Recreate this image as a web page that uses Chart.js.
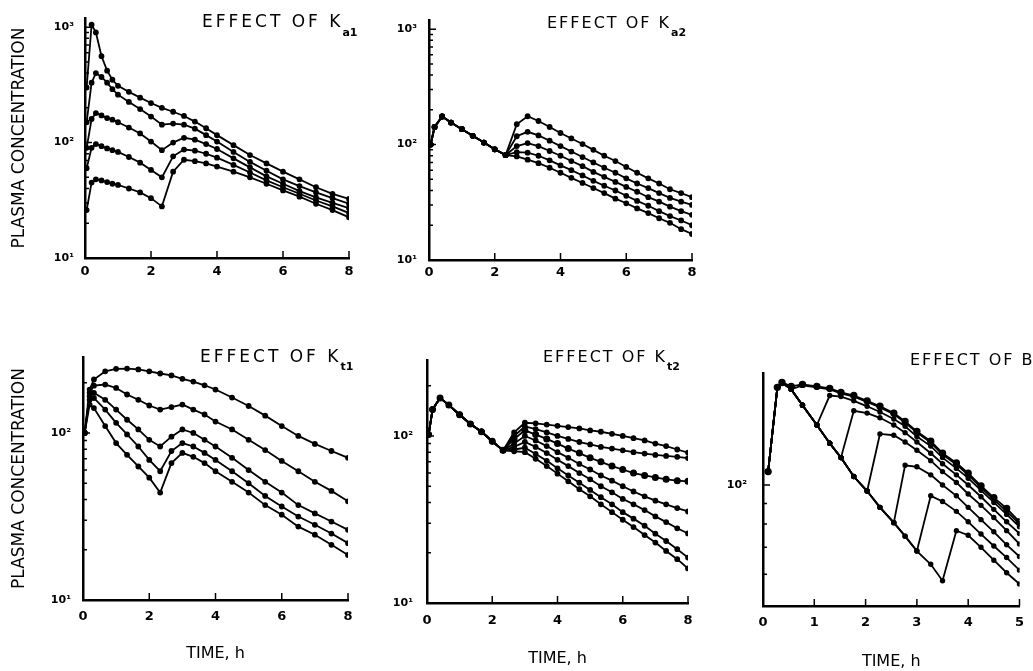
<!DOCTYPE html>
<html>
<head>
<meta charset="utf-8">
<script src="https://cdn.jsdelivr.net/npm/chart.js@4.4.1/dist/chart.umd.min.js"></script>
<style>
  html, body { margin: 0; padding: 0; background: #fff; }
  body { width: 1033px; height: 671px; position: relative; overflow: hidden; }
  .panel { position: absolute; }
</style>
</head>
<body>
<div class="panel" style="left:0;top:0;width:375px;height:300px"><canvas id="ka1"></canvas></div>
<div class="panel" style="left:375px;top:0;width:345px;height:300px"><canvas id="ka2"></canvas></div>
<div class="panel" style="left:0;top:300px;width:375px;height:371px"><canvas id="kt1"></canvas></div>
<div class="panel" style="left:375px;top:300px;width:345px;height:371px"><canvas id="kt2"></canvas></div>
<div class="panel" style="left:720px;top:300px;width:313px;height:371px"><canvas id="effB"></canvas></div>
<script>
// time grids (h)
const timeKa1 = [0.05, 0.2, 0.33, 0.5, 0.67, 0.83, 1.0, 1.33, 1.67, 2.0, 2.33, 2.67, 3.0, 3.33, 3.67, 4.0, 4.5, 5.0, 5.5, 6.0, 6.5, 7.0, 7.5, 8.0];
const timeKa2 = [0.05, 0.17, 0.4, 0.67, 1.0, 1.33, 1.67, 2.0, 2.33, 2.67, 3.0, 3.33, 3.67, 4.0, 4.33, 4.67, 5.0, 5.33, 5.67, 6.0, 6.33, 6.67, 7.0, 7.33, 7.67, 8.0];
const timeKt1 = [0.05, 0.2, 0.33, 0.67, 1.0, 1.33, 1.67, 2.0, 2.33, 2.67, 3.0, 3.33, 3.67, 4.0, 4.5, 5.0, 5.5, 6.0, 6.5, 7.0, 7.5, 8.0];
const timeKt2 = [0.05, 0.17, 0.4, 0.67, 1.0, 1.33, 1.67, 2.0, 2.33, 2.67, 3.0, 3.33, 3.67, 4.0, 4.33, 4.67, 5.0, 5.33, 5.67, 6.0, 6.33, 6.67, 7.0, 7.33, 7.67, 8.0];
const timeB = [0.1, 0.28, 0.37, 0.55, 0.77, 1.05, 1.3, 1.52, 1.77, 2.03, 2.28, 2.55, 2.77, 3.0, 3.27, 3.5, 3.77, 4.0, 4.25, 4.5, 4.75, 5.0];

// EFFECT OF Ka1
const ka1_1 = [300, 1050, 900, 560, 420, 350, 310, 275, 245, 220, 200, 185, 170, 152, 133, 116, 95, 78, 66, 56, 48, 41, 36, 32.5];
const ka1_2 = [150, 330, 400, 370, 330, 290, 260, 225, 195, 168, 143, 146, 143, 132, 116, 102, 83, 68, 57, 48, 42, 37, 33, 29.5];
const ka1_3 = [90, 160, 180, 172, 163, 158, 150, 135, 120, 102, 86, 100, 110, 106, 97, 88, 73, 61, 51, 44, 38, 33.5, 30, 27];
const ka1_4 = [60, 90, 97, 93, 89, 86, 83, 75, 67, 58, 50, 76, 87, 85, 80, 74, 64, 55, 47, 41, 36, 31.5, 28, 24.5];
const ka1_5 = [26, 45, 48, 47, 45.5, 44, 43, 40, 37, 33, 28, 56, 71, 69, 66, 62, 56, 50, 44, 38.5, 34, 29.5, 26, 22.5];

// EFFECT OF Ka2
const ka2_1 = [100, 142, 175, 155, 136, 119, 104, 91, 81, 150, 176, 160, 142, 126, 113, 101, 90, 80, 72, 64, 57, 51, 46, 41, 38, 35];
const ka2_2 = [100, 142, 175, 155, 136, 119, 104, 91, 81, 118, 129, 120, 108, 97, 87, 78, 70, 63, 57, 51, 46, 42, 38, 34.5, 32, 30];
const ka2_3 = [100, 142, 175, 155, 136, 119, 104, 91, 81, 97, 103, 97, 88, 80, 72, 65, 58, 52.5, 47.5, 43, 39, 35, 32, 29, 26.5, 24.6];
const ka2_4 = [100, 142, 175, 155, 136, 119, 104, 91, 81, 86, 85, 80, 73, 66, 60, 54, 48.5, 44, 40, 36, 32.5, 29.5, 26.5, 24, 22, 20];
const ka2_5 = [100, 142, 175, 155, 136, 119, 104, 91, 81, 79, 74, 69, 63, 57, 51.5, 46.5, 42, 38, 34, 31, 28, 25.5, 23, 21, 18.5, 16.8];

// EFFECT OF Kt1
const kt1_1 = [100, 182, 209, 234, 242, 243, 240, 234, 227, 221, 211, 203, 193, 182, 163, 145, 127, 110, 96, 86, 78, 71];
const kt1_2 = [100, 174, 192, 195, 186, 170, 158, 146, 138, 143, 148, 138, 129, 117, 105, 91, 79, 68, 59, 51, 45, 39];
const kt1_3 = [100, 166, 174, 158, 138, 120, 105, 91, 83, 95, 105, 100, 91, 83, 71, 60, 51, 44, 37, 33, 29.5, 26.3];
const kt1_4 = [100, 158, 162, 138, 115, 98, 83, 69, 59, 78, 87, 83, 76, 69, 59, 50, 42, 36.3, 31.6, 28.2, 25, 21.9];
const kt1_5 = [100, 148, 141, 110, 87, 74, 63, 54, 44, 66, 76, 72, 66, 59, 51, 44, 37, 32.4, 27.5, 24.6, 21.4, 18.6];

// EFFECT OF Kt2
const kt2_1 = [102, 144, 169, 153, 134, 118, 106, 93, 82, 105, 120, 119, 117, 115, 113, 111, 108, 106, 103, 100, 97, 94, 90, 87, 83, 79.5];
const kt2_2 = [102, 144, 169, 153, 134, 118, 106, 93, 82, 100, 114, 110, 105, 100, 96, 92, 89, 86, 84, 82, 80, 78.5, 77, 76, 75, 73.7];
const kt2_3 = [102, 144, 169, 153, 134, 118, 106, 93, 82, 96, 108, 102, 96, 90, 84, 79, 74, 70, 66, 63, 60, 58, 56.5, 55, 54, 53.5];
const kt2_4 = [102, 144, 169, 153, 134, 118, 106, 93, 82, 90, 100, 94, 87, 80, 74, 68, 63, 58, 54, 50, 46.5, 43.5, 41, 39, 37, 35.3];
const kt2_5 = [102, 144, 169, 153, 134, 118, 106, 93, 82, 86, 92, 86, 79, 72, 66, 60, 55, 50, 46, 42, 39, 36, 33, 30.5, 28, 26.1];
const kt2_6 = [102, 144, 169, 153, 134, 118, 106, 93, 82, 83, 85, 78, 71, 64, 58, 52.5, 47.5, 43, 39, 35, 32, 29, 26, 23.5, 21, 18.7];
const kt2_7 = [102, 144, 169, 153, 134, 118, 106, 93, 82, 81, 80, 73, 66, 59.5, 53.5, 48, 43.5, 39, 35, 31.5, 28.5, 25.5, 23, 20.5, 18.3, 16.1];

// EFFECT OF B
const b_1 = [108, 175, 180, 176, 178, 176, 174, 170, 167, 162, 157, 151, 144, 136, 128.5, 120, 113.5, 107, 99.5, 93, 87.5, 81];
const b_2 = [108, 175, 180, 173, 177, 175, 173, 169, 166, 161, 156, 150, 143, 135, 127.5, 119, 112.5, 106, 98.5, 92, 86, 80];
const b_3 = [108, 175, 180, 173, 158, 141, 167, 166, 162, 157, 152, 146, 140, 132, 125, 117, 110, 104, 97, 90.5, 84.5, 78.7];
const b_4 = [108, 175, 180, 173, 158, 141, 127, 117, 153, 151, 147, 141, 135, 128, 120, 113, 106, 100, 93.5, 87, 81, 75.7];
const b_5 = [108, 175, 180, 173, 158, 141, 127, 117, 105, 96.6, 134, 133, 128, 122, 115, 108, 101.5, 95, 89, 83, 77, 71.3];
const b_6 = [108, 175, 180, 173, 158, 141, 127, 117, 105, 96.6, 88, 80.6, 112, 111, 106, 100, 94, 88, 82, 76.5, 71, 66.4];
const b_7 = [108, 175, 180, 173, 158, 141, 127, 117, 105, 96.6, 88, 80.6, 74.6, 68.5, 94, 91, 86, 81, 75.5, 70.5, 66, 61.4];
const b_8 = [108, 175, 180, 173, 158, 141, 127, 117, 105, 96.6, 88, 80.6, 74.6, 68.5, 63.5, 57.8, 77, 75, 70, 65, 60.5, 56.7];

const powerLabels = { 10: '10\u00B9', 100: '10\u00B2', 1000: '10\u00B3' };

Chart.defaults.font.family = '"DejaVu Sans", sans-serif';
Chart.defaults.color = '#000';

// tick marks pointing into the plot, like the original
const inwardTicks = {
  id: 'inwardTicks',
  afterDraw(chart) {
    const { ctx, chartArea: a, scales: { x, y } } = chart;
    ctx.save();
    ctx.strokeStyle = '#000';
    ctx.lineWidth = 1.5;
    ctx.beginPath();
    y.ticks.forEach(t => {
      const p = Math.pow(10, Math.floor(Math.log10(t.value) + 1e-9));
      const m = t.value / p;
      if (Math.abs(m - Math.round(m)) > 1e-6) return;
      const py = y.getPixelForValue(t.value);
      if (py < a.top + 2 || py > a.bottom - 2) return;
      const len = Math.abs(m - 1) < 1e-6 ? 7 : 4;
      ctx.moveTo(a.left, py);
      ctx.lineTo(a.left + len, py);
    });
    x.ticks.forEach(t => {
      const px = x.getPixelForValue(t.value);
      if (px < a.left + 2) return;
      ctx.moveTo(px, a.bottom);
      ctx.lineTo(px, a.bottom - 7);
    });
    ctx.stroke();
    ctx.restore();
  }
};

// "EFFECT OF K" with its subscript
const panelTitle = {
  id: 'panelTitle',
  afterDraw(chart, args, o) {
    if (!o || !o.text) return;
    const ctx = chart.ctx;
    ctx.save();
    ctx.fillStyle = '#000';
    ctx.textBaseline = 'alphabetic';
    ctx.font = o.size + 'px "DejaVu Sans"';
    ctx.letterSpacing = o.spacing + 'px';
    ctx.fillText(o.text, o.x, o.y);
    if (o.sub) {
      const w = ctx.measureText(o.text).width;
      ctx.letterSpacing = '0px';
      ctx.font = 'bold 11px "DejaVu Sans"';
      ctx.fillText(o.sub, o.x + w - o.spacing + 2, o.y + o.drop);
    }
    ctx.restore();
  }
};

function line(t, vals, r) {
  return {
    data: vals.map((v, i) => ({ x: t[i], y: v })),
    borderColor: '#000',
    backgroundColor: '#000',
    borderWidth: 1.8,
    pointRadius: r || 2,
    pointHoverRadius: 0,
    tension: 0,
    fill: false
  };
}

function panel(id, p) {
  new Chart(document.getElementById(id), {
    type: 'line',
    data: { datasets: p.datasets },
    plugins: [inwardTicks, panelTitle],
    options: {
      responsive: true,
      maintainAspectRatio: false,
      animation: false,
      events: [],
      layout: { padding: p.padding },
      plugins: {
        legend: { display: false },
        tooltip: { enabled: false },
        panelTitle: p.title
      },
      scales: {
        x: {
          type: 'linear',
          min: 0,
          max: p.xMax,
          afterFit: s => { s.height = p.xHeight; },
          grid: { display: false, drawTicks: false },
          border: { display: true, color: '#000', width: 2.5 },
          ticks: { stepSize: p.xStep, padding: p.xPad, font: { size: 13, weight: 'bold' } },
          title: {
            display: !!p.xTitle,
            text: p.xTitle || '',
            font: { size: 16 },
            padding: { top: 0, bottom: p.xTitlePad || 0 }
          }
        },
        y: {
          type: 'logarithmic',
          min: p.yMin,
          max: p.yMax,
          afterFit: s => { s.width = p.yWidth; },
          grid: { display: false, drawTicks: false },
          border: { display: true, color: '#000', width: 2.5 },
          ticks: {
            autoSkip: false,
            padding: p.yPad,
            font: { size: 11, weight: 'bold' },
            callback: v => powerLabels[v] || ''
          },
          title: {
            display: !!p.yTitle,
            text: p.yTitle || '',
            font: { size: 17 },
            padding: { top: 9, bottom: 0 }
          }
        }
      }
    }
  });
}

panel('ka1', {
  datasets: [ka1_1, ka1_2, ka1_3, ka1_4, ka1_5].map(s => line(timeKa1, s)),
  padding: { left: 0, top: 18, right: 26, bottom: 18 },
  yWidth: 85, xHeight: 24, xMax: 8, xStep: 2, xPad: 6, yPad: 11,
  yMin: 10, yMax: 1200,
  yTitle: 'PLASMA CONCENTRATION',
  title: { text: 'EFFECT OF K', sub: 'a1', x: 202, y: 27, size: 17, spacing: 3, drop: 9 }
});

panel('ka2', {
  datasets: [ka2_1, ka2_2, ka2_3, ka2_4, ka2_5].map(s => line(timeKa2, s)),
  padding: { left: 0, top: 20, right: 28, bottom: 16 },
  yWidth: 54, xHeight: 24, xMax: 8, xStep: 2, xPad: 5, yPad: 12,
  yMin: 10, yMax: 1200,
  title: { text: 'EFFECT OF K', sub: 'a2', x: 172, y: 28, size: 16, spacing: 2, drop: 8 }
});

panel('kt1', {
  datasets: [kt1_1, kt1_2, kt1_3, kt1_4, kt1_5].map(s => line(timeKt1, s)),
  padding: { left: 0, top: 57, right: 27, bottom: 6 },
  yWidth: 83, xHeight: 65, xMax: 8, xStep: 2, xPad: 9, yPad: 12,
  yMin: 10, yMax: 285,
  yTitle: 'PLASMA CONCENTRATION',
  xTitle: 'TIME, h', xTitlePad: 2,
  title: { text: 'EFFECT OF K', sub: 't1', x: 200, y: 62, size: 17, spacing: 3, drop: 8 }
});

panel('kt2', {
  datasets: [kt2_1, kt2_2, kt2_3, kt2_4, kt2_5, kt2_6, kt2_7].map((s, i) => line(timeKt2, s, i === 2 ? 2.6 : 2)),
  padding: { left: 0, top: 60, right: 32, bottom: 3 },
  yWidth: 52, xHeight: 65, xMax: 8, xStep: 2, xPad: 10, yPad: 14,
  yMin: 10, yMax: 285,
  xTitle: 'TIME, h', xTitlePad: 0,
  title: { text: 'EFFECT OF K', sub: 't2', x: 168, y: 62, size: 16, spacing: 2, drop: 8 }
});

panel('effB', {
  datasets: [b_1, b_2, b_3, b_4, b_5, b_6, b_7, b_8].map((s, i) => line(timeB, s, i === 0 ? 2.8 : 1.8)),
  padding: { left: 0, top: 73, right: 7, bottom: 0 },
  yWidth: 43, xHeight: 65, xMax: 5, xStep: 1, xPad: 9, yPad: 16,
  yMin: 50, yMax: 190,
  xTitle: 'TIME, h', xTitlePad: 0,
  title: { text: 'EFFECT OF B', x: 190, y: 65, size: 16, spacing: 2, drop: 0 }
});
</script>
</body>
</html>
